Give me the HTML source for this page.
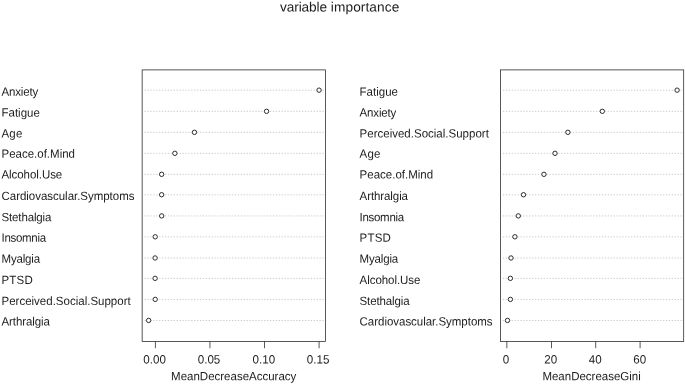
<!DOCTYPE html>
<html><head><meta charset="utf-8"><title>variable importance</title>
<style>
html,body{margin:0;padding:0;background:#fff;}
svg{display:block;}
text{font-family:"Liberation Sans",Arial,sans-serif;fill:#1c1c1c;text-rendering:geometricPrecision;}
</style></head><body>
<svg width="685" height="384" viewBox="0 0 685 384">
<rect width="685" height="384" fill="#fff"/>
<text transform="translate(0 11.4) rotate(0.03) scale(1 0.975)" font-size="13.66"><tspan x="280.11" textLength="46.98" lengthAdjust="spacing">variable</tspan> <tspan x="330.88" textLength="68.41" lengthAdjust="spacing">importance</tspan></text>
<g>
<line x1="144.62" y1="90.20" x2="325.10" y2="90.20" stroke="#c8c8c8" stroke-width="0.95" stroke-dasharray="1.3 1.614"/>
<line x1="144.62" y1="111.35" x2="325.10" y2="111.35" stroke="#c8c8c8" stroke-width="0.95" stroke-dasharray="1.3 1.614"/>
<line x1="144.62" y1="132.37" x2="325.10" y2="132.37" stroke="#c8c8c8" stroke-width="0.95" stroke-dasharray="1.3 1.614"/>
<line x1="144.62" y1="153.37" x2="325.10" y2="153.37" stroke="#c8c8c8" stroke-width="0.95" stroke-dasharray="1.3 1.614"/>
<line x1="144.62" y1="174.37" x2="325.10" y2="174.37" stroke="#c8c8c8" stroke-width="0.95" stroke-dasharray="1.3 1.614"/>
<line x1="144.62" y1="194.80" x2="325.10" y2="194.80" stroke="#c8c8c8" stroke-width="0.95" stroke-dasharray="1.3 1.614"/>
<line x1="144.62" y1="215.95" x2="325.10" y2="215.95" stroke="#c8c8c8" stroke-width="0.95" stroke-dasharray="1.3 1.614"/>
<line x1="144.62" y1="236.85" x2="325.10" y2="236.85" stroke="#c8c8c8" stroke-width="0.95" stroke-dasharray="1.3 1.614"/>
<line x1="144.62" y1="258.02" x2="325.10" y2="258.02" stroke="#c8c8c8" stroke-width="0.95" stroke-dasharray="1.3 1.614"/>
<line x1="144.62" y1="278.40" x2="325.10" y2="278.40" stroke="#c8c8c8" stroke-width="0.95" stroke-dasharray="1.3 1.614"/>
<line x1="144.62" y1="299.43" x2="325.10" y2="299.43" stroke="#c8c8c8" stroke-width="0.95" stroke-dasharray="1.3 1.614"/>
<line x1="144.62" y1="320.47" x2="325.10" y2="320.47" stroke="#c8c8c8" stroke-width="0.95" stroke-dasharray="1.3 1.614"/>
<text transform="translate(1.50 95.70) rotate(0.03) scale(1 1.04)" font-size="11.5" textLength="36.72" lengthAdjust="spacing">Anxiety</text>
<text transform="translate(1.50 116.62) rotate(0.03) scale(1 1.04)" font-size="11.5" textLength="38.36" lengthAdjust="spacing">Fatigue</text>
<text transform="translate(1.50 137.54) rotate(0.03) scale(1 1.04)" font-size="11.5" textLength="20.87" lengthAdjust="spacing">Age</text>
<text transform="translate(1.50 157.66) rotate(0.03) scale(1 1.04)" font-size="11.5" textLength="73.52" lengthAdjust="spacing">Peace.of.Mind</text>
<text transform="translate(1.50 178.58) rotate(0.03) scale(1 1.04)" font-size="11.5" textLength="60.77" lengthAdjust="spacing">Alcohol.Use</text>
<text transform="translate(1.50 200.00) rotate(0.03) scale(1 1.04)" font-size="11.5" textLength="132.98" lengthAdjust="spacing">Cardiovascular.Symptoms</text>
<text transform="translate(1.50 221.22) rotate(0.03) scale(1 1.04)" font-size="11.5" textLength="49.96" lengthAdjust="spacing">Stethalgia</text>
<text transform="translate(1.50 241.74) rotate(0.03) scale(1 1.04)" font-size="11.5" textLength="44.57" lengthAdjust="spacing">Insomnia</text>
<text transform="translate(1.50 262.66) rotate(0.03) scale(1 1.04)" font-size="11.5" textLength="38.64" lengthAdjust="spacing">Myalgia</text>
<text transform="translate(1.50 283.88) rotate(0.03) scale(1 1.04)" font-size="11.5" textLength="31.27" lengthAdjust="spacing">PTSD</text>
<text transform="translate(1.50 304.90) rotate(0.03) scale(1 1.04)" font-size="11.5" textLength="129.24" lengthAdjust="spacing">Perceived.Social.Support</text>
<text transform="translate(1.50 325.42) rotate(0.03) scale(1 1.04)" font-size="11.5" textLength="48.42" lengthAdjust="spacing">Arthralgia</text>
<circle cx="319.05" cy="90.15" r="2.2" fill="#fff" stroke="#222" stroke-width="0.95"/>
<circle cx="266.56" cy="111.30" r="2.2" fill="#fff" stroke="#222" stroke-width="0.95"/>
<circle cx="194.45" cy="132.32" r="2.2" fill="#fff" stroke="#222" stroke-width="0.95"/>
<circle cx="174.88" cy="153.32" r="2.2" fill="#fff" stroke="#222" stroke-width="0.95"/>
<circle cx="161.64" cy="174.32" r="2.2" fill="#fff" stroke="#222" stroke-width="0.95"/>
<circle cx="161.64" cy="194.75" r="2.2" fill="#fff" stroke="#222" stroke-width="0.95"/>
<circle cx="161.67" cy="215.90" r="2.2" fill="#fff" stroke="#222" stroke-width="0.95"/>
<circle cx="155.20" cy="236.80" r="2.2" fill="#fff" stroke="#222" stroke-width="0.95"/>
<circle cx="155.10" cy="257.97" r="2.2" fill="#fff" stroke="#222" stroke-width="0.95"/>
<circle cx="155.10" cy="278.35" r="2.2" fill="#fff" stroke="#222" stroke-width="0.95"/>
<circle cx="155.20" cy="299.38" r="2.2" fill="#fff" stroke="#222" stroke-width="0.95"/>
<circle cx="148.66" cy="320.42" r="2.2" fill="#fff" stroke="#222" stroke-width="0.95"/>
<line x1="155.40" y1="341.42" x2="155.40" y2="348.22" stroke="#1e1e1e" stroke-width="0.74"/>
<text transform="translate(154.55 363.6) rotate(0.03) scale(1 1.04)" font-size="11.6" text-anchor="middle">0.00</text>
<line x1="209.95" y1="341.42" x2="209.95" y2="348.22" stroke="#1e1e1e" stroke-width="0.74"/>
<text transform="translate(209.00 363.6) rotate(0.03) scale(1 1.04)" font-size="11.6" text-anchor="middle">0.05</text>
<line x1="264.50" y1="341.42" x2="264.50" y2="348.22" stroke="#1e1e1e" stroke-width="0.74"/>
<text transform="translate(263.80 363.6) rotate(0.03) scale(1 1.04)" font-size="11.6" text-anchor="middle">0.10</text>
<line x1="319.10" y1="341.42" x2="319.10" y2="348.22" stroke="#1e1e1e" stroke-width="0.74"/>
<text transform="translate(318.10 363.6) rotate(0.03) scale(1 1.04)" font-size="11.6" text-anchor="middle">0.15</text>
<rect x="142.15" y="69.90" width="183.35" height="271.52" fill="none" stroke="#1e1e1e" stroke-width="0.74"/>
<text transform="translate(233.70 380.2) rotate(0.03) scale(1 1.04)" font-size="11.5" text-anchor="middle">MeanDecreaseAccuracy</text>
</g>
<g>
<line x1="502.84" y1="90.20" x2="683.30" y2="90.20" stroke="#c8c8c8" stroke-width="0.95" stroke-dasharray="1.3 1.614"/>
<line x1="502.84" y1="111.35" x2="683.30" y2="111.35" stroke="#c8c8c8" stroke-width="0.95" stroke-dasharray="1.3 1.614"/>
<line x1="502.84" y1="132.37" x2="683.30" y2="132.37" stroke="#c8c8c8" stroke-width="0.95" stroke-dasharray="1.3 1.614"/>
<line x1="502.84" y1="153.37" x2="683.30" y2="153.37" stroke="#c8c8c8" stroke-width="0.95" stroke-dasharray="1.3 1.614"/>
<line x1="502.84" y1="174.37" x2="683.30" y2="174.37" stroke="#c8c8c8" stroke-width="0.95" stroke-dasharray="1.3 1.614"/>
<line x1="502.84" y1="194.80" x2="683.30" y2="194.80" stroke="#c8c8c8" stroke-width="0.95" stroke-dasharray="1.3 1.614"/>
<line x1="502.84" y1="215.95" x2="683.30" y2="215.95" stroke="#c8c8c8" stroke-width="0.95" stroke-dasharray="1.3 1.614"/>
<line x1="502.84" y1="236.85" x2="683.30" y2="236.85" stroke="#c8c8c8" stroke-width="0.95" stroke-dasharray="1.3 1.614"/>
<line x1="502.84" y1="258.02" x2="683.30" y2="258.02" stroke="#c8c8c8" stroke-width="0.95" stroke-dasharray="1.3 1.614"/>
<line x1="502.84" y1="278.40" x2="683.30" y2="278.40" stroke="#c8c8c8" stroke-width="0.95" stroke-dasharray="1.3 1.614"/>
<line x1="502.84" y1="299.43" x2="683.30" y2="299.43" stroke="#c8c8c8" stroke-width="0.95" stroke-dasharray="1.3 1.614"/>
<line x1="502.84" y1="320.47" x2="683.30" y2="320.47" stroke="#c8c8c8" stroke-width="0.95" stroke-dasharray="1.3 1.614"/>
<text transform="translate(359.60 95.70) rotate(0.03) scale(1 1.04)" font-size="11.5" textLength="38.36" lengthAdjust="spacing">Fatigue</text>
<text transform="translate(359.60 116.62) rotate(0.03) scale(1 1.04)" font-size="11.5" textLength="36.72" lengthAdjust="spacing">Anxiety</text>
<text transform="translate(359.60 137.54) rotate(0.03) scale(1 1.04)" font-size="11.5" textLength="129.24" lengthAdjust="spacing">Perceived.Social.Support</text>
<text transform="translate(359.60 157.66) rotate(0.03) scale(1 1.04)" font-size="11.5" textLength="20.87" lengthAdjust="spacing">Age</text>
<text transform="translate(359.60 178.58) rotate(0.03) scale(1 1.04)" font-size="11.5" textLength="73.52" lengthAdjust="spacing">Peace.of.Mind</text>
<text transform="translate(359.60 200.00) rotate(0.03) scale(1 1.04)" font-size="11.5" textLength="48.42" lengthAdjust="spacing">Arthralgia</text>
<text transform="translate(359.60 221.22) rotate(0.03) scale(1 1.04)" font-size="11.5" textLength="44.57" lengthAdjust="spacing">Insomnia</text>
<text transform="translate(359.60 241.74) rotate(0.03) scale(1 1.04)" font-size="11.5" textLength="31.27" lengthAdjust="spacing">PTSD</text>
<text transform="translate(359.60 262.66) rotate(0.03) scale(1 1.04)" font-size="11.5" textLength="38.64" lengthAdjust="spacing">Myalgia</text>
<text transform="translate(359.60 283.88) rotate(0.03) scale(1 1.04)" font-size="11.5" textLength="60.77" lengthAdjust="spacing">Alcohol.Use</text>
<text transform="translate(359.60 304.90) rotate(0.03) scale(1 1.04)" font-size="11.5" textLength="49.96" lengthAdjust="spacing">Stethalgia</text>
<text transform="translate(359.60 325.42) rotate(0.03) scale(1 1.04)" font-size="11.5" textLength="132.98" lengthAdjust="spacing">Cardiovascular.Symptoms</text>
<circle cx="677.10" cy="90.15" r="2.2" fill="#fff" stroke="#222" stroke-width="0.95"/>
<circle cx="602.30" cy="111.30" r="2.2" fill="#fff" stroke="#222" stroke-width="0.95"/>
<circle cx="567.90" cy="132.32" r="2.2" fill="#fff" stroke="#222" stroke-width="0.95"/>
<circle cx="555.00" cy="153.32" r="2.2" fill="#fff" stroke="#222" stroke-width="0.95"/>
<circle cx="543.95" cy="174.32" r="2.2" fill="#fff" stroke="#222" stroke-width="0.95"/>
<circle cx="523.50" cy="194.75" r="2.2" fill="#fff" stroke="#222" stroke-width="0.95"/>
<circle cx="518.30" cy="215.90" r="2.2" fill="#fff" stroke="#222" stroke-width="0.95"/>
<circle cx="514.90" cy="236.80" r="2.2" fill="#fff" stroke="#222" stroke-width="0.95"/>
<circle cx="511.00" cy="257.97" r="2.2" fill="#fff" stroke="#222" stroke-width="0.95"/>
<circle cx="510.40" cy="278.35" r="2.2" fill="#fff" stroke="#222" stroke-width="0.95"/>
<circle cx="510.40" cy="299.38" r="2.2" fill="#fff" stroke="#222" stroke-width="0.95"/>
<circle cx="507.50" cy="320.42" r="2.2" fill="#fff" stroke="#222" stroke-width="0.95"/>
<line x1="506.85" y1="341.42" x2="506.85" y2="348.22" stroke="#1e1e1e" stroke-width="0.74"/>
<text transform="translate(505.90 363.6) rotate(0.03) scale(1 1.04)" font-size="11.6" text-anchor="middle">0</text>
<line x1="551.50" y1="341.42" x2="551.50" y2="348.22" stroke="#1e1e1e" stroke-width="0.74"/>
<text transform="translate(550.65 363.6) rotate(0.03) scale(1 1.04)" font-size="11.6" text-anchor="middle">20</text>
<line x1="595.70" y1="341.42" x2="595.70" y2="348.22" stroke="#1e1e1e" stroke-width="0.74"/>
<text transform="translate(595.25 363.6) rotate(0.03) scale(1 1.04)" font-size="11.6" text-anchor="middle">40</text>
<line x1="640.10" y1="341.42" x2="640.10" y2="348.22" stroke="#1e1e1e" stroke-width="0.74"/>
<text transform="translate(639.75 363.6) rotate(0.03) scale(1 1.04)" font-size="11.6" text-anchor="middle">60</text>
<rect x="500.37" y="69.90" width="183.33" height="271.52" fill="none" stroke="#1e1e1e" stroke-width="0.74"/>
<text transform="translate(591.60 380.2) rotate(0.03) scale(1 1.04)" font-size="11.5" text-anchor="middle">MeanDecreaseGini</text>
</g>
</svg>
</body></html>
